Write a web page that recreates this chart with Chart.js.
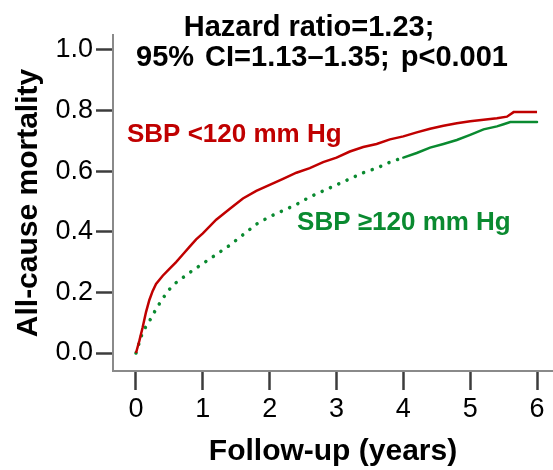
<!DOCTYPE html>
<html><head><meta charset="utf-8">
<script src="https://cdn.jsdelivr.net/npm/chart.js@4.4.1/dist/chart.umd.min.js"></script>
<style>html,body{margin:0;padding:0;background:#fff}</style>
</head><body>
<canvas id="c" width="553" height="470"></canvas>
<script>
// ---- data ----
const yearsLow = [0,0.05,0.1,0.15,0.2,0.25,0.3,0.4,0.5,0.6,0.7,0.8,0.9,1.0,1.2,1.4,1.6,1.8,2.0,2.2,2.4,2.6,2.8,3.0,3.2,3.4,3.6,3.8,4.0,4.2,4.4,4.6,4.8,5.0,5.2,5.4,5.55,5.65,6.0];
const mortLow  = [0,0.04,0.085,0.135,0.175,0.205,0.228,0.255,0.278,0.30,0.325,0.35,0.375,0.395,0.44,0.475,0.51,0.535,0.555,0.575,0.595,0.61,0.63,0.645,0.665,0.68,0.69,0.705,0.715,0.728,0.74,0.75,0.758,0.765,0.77,0.775,0.78,0.795,0.795];
const yearsHigh = [0,0.05,0.1,0.2,0.3,0.4,0.5,0.6,0.8,1.0,1.2,1.4,1.6,1.8,2.0,2.2,2.4,2.6,2.8,3.0,3.2,3.4,3.6,3.8,4.0,4.2,4.4,4.6,4.8,5.0,5.2,5.4,5.5,5.6,6.0];
const mortHigh  = [0,0.035,0.07,0.105,0.145,0.18,0.21,0.232,0.265,0.295,0.325,0.355,0.39,0.425,0.45,0.47,0.49,0.515,0.535,0.555,0.575,0.595,0.61,0.63,0.645,0.66,0.678,0.69,0.703,0.72,0.738,0.748,0.755,0.762,0.762];
const xTickValues = [0,1,2,3,4,5,6];
const yTickValues = [0,0.2,0.4,0.6,0.8,1.0];
const seriesNames = ['SBP <120 mm Hg', 'SBP \u2265120 mm Hg'];
const titleLines = ['Hazard ratio=1.23;', '95% CI=1.13\u20131.35; p<0.001'];
const xTitle = 'Follow-up (years)';
const yTitle = 'All-cause mortality';

const RED = '#c00000', GREEN = '#0a8a30';
const FONT = '"Liberation Sans", Arial, sans-serif';

const toPts = (xs, ys) => xs.map((x, i) => ({x, y: ys[i]}));

const annotate = {
  id: 'annotate',
  afterDraw(chart) {
    const ctx = chart.ctx, xs = chart.scales.x, ys = chart.scales.y;
    ctx.save();
    ctx.fillStyle = '#000';
    ctx.textAlign = 'center';
    ctx.textBaseline = 'alphabetic';
    ctx.font = 'bold 29px ' + FONT;
    ctx.fillText(titleLines[0], 309, 36);
    try { ctx.wordSpacing = '3px'; } catch(e) {}
    ctx.fillText(titleLines[1], 322, 66);
    try { ctx.wordSpacing = '0px'; } catch(e) {}
    ctx.textAlign = 'left';
    ctx.font = 'bold 26px ' + FONT;
    ctx.fillStyle = RED;
    ctx.fillText(seriesNames[0], xs.getPixelForValue(-0.135), ys.getPixelForValue(0.696));
    ctx.fillStyle = GREEN;
    ctx.fillText(seriesNames[1], xs.getPixelForValue(2.41), ys.getPixelForValue(0.406));
    ctx.restore();
  }
};

new Chart(document.getElementById('c'), {
  type: 'line',
  data: {
    datasets: [
      {
        label: seriesNames[0],
        data: toPts(yearsLow, mortLow),
        borderColor: RED, borderWidth: 2.5, pointRadius: 0, tension: 0, fill: false
      },
      {
        label: seriesNames[1],
        data: toPts(yearsHigh, mortHigh),
        borderColor: GREEN, borderWidth: 3, pointRadius: 0, tension: 0, fill: false,
        borderCapStyle: 'round',
        segment: {
          borderDash: c => (c.p0.parsed.x < 4 ? [0.1, 9] : undefined),
          borderWidth: c => (c.p0.parsed.x < 4 ? 3.5 : 2.5)
        }
      }
    ]
  },
  options: {
    responsive: false,
    animation: false,
    devicePixelRatio: 1,
    layout: { padding: { top: 35, right: 0, left: 0, bottom: 0 } },
    plugins: { legend: { display: false }, tooltip: { enabled: false }, title: { display: false } },
    scales: {
      x: {
        type: 'linear',
        min: -0.344, max: 6.239,
        afterBuildTicks: s => { s.ticks = xTickValues.map(v => ({value: v})); },
        afterFit: s => { s.height = 99; },
        border: { display: true, color: '#8a8a8a', width: 2 },
        grid: { drawOnChartArea: false, drawTicks: true, tickLength: 19, tickWidth: 2.5, tickColor: '#3c3c3c' },
        ticks: { color: '#000', font: { family: FONT, size: 27 }, padding: 3, maxRotation: 0, autoSkip: false },
        title: { display: true, text: xTitle, color: '#000', font: { family: FONT, size: 30, weight: 'bold' }, padding: { top: 0, bottom: 0 } }
      },
      y: {
        type: 'linear',
        min: -0.0594, max: 1.0495,
        afterBuildTicks: s => { s.ticks = yTickValues.map(v => ({value: v})); },
        afterFit: s => { s.width = 113; },
        border: { display: true, color: '#8a8a8a', width: 2 },
        grid: { drawOnChartArea: false, drawTicks: true, tickLength: 17, tickWidth: 2.5, tickColor: '#3c3c3c' },
        ticks: { color: '#000', font: { family: FONT, size: 27 }, padding: 3, autoSkip: false,
                 callback: v => Number(v).toFixed(1) },
        title: { display: true, text: yTitle, color: '#000', font: { family: FONT, size: 30, weight: 'bold' }, padding: { top: 11, bottom: 0 } }
      }
    }
  },
  plugins: [annotate]
});
</script>
</body></html>
